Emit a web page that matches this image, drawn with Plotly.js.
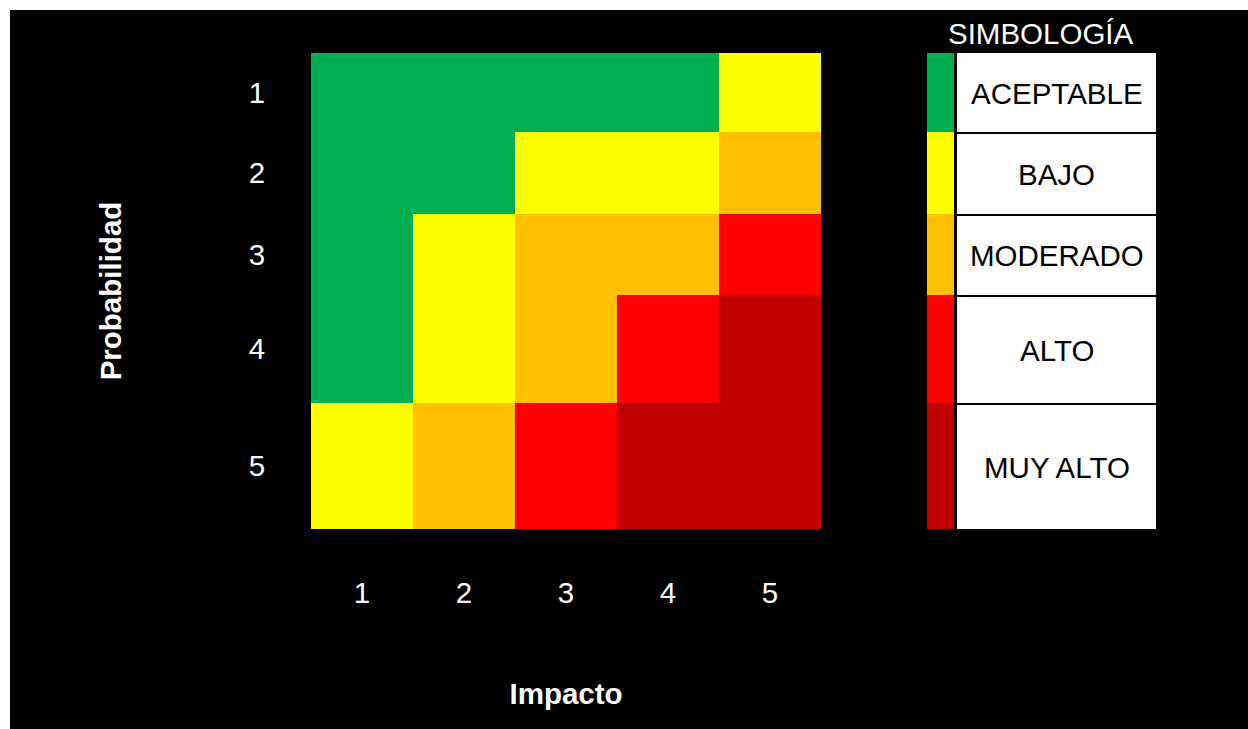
<!DOCTYPE html>
<html>
<head>
<meta charset="utf-8">
<script src="https://cdn.plot.ly/plotly-3.0.1.min.js"></script>
<style>
  html, body { margin: 0; padding: 0; background: #ffffff; }
  #chart { position: absolute; left: 10px; top: 10px; width: 1238px; height: 719px; }
</style>
</head>
<body>
<div id="chart"></div>
<script>
// ---- data ----
const impactLabels = ['1', '2', '3', '4', '5'];          // columns (Impacto)
const probabilityLabels = ['1', '2', '3', '4', '5'];     // rows (Probabilidad)
const levelNames = ['ACEPTABLE', 'BAJO', 'MODERADO', 'ALTO', 'MUY ALTO'];
const levelColors = ['#00B050', '#FFFF00', '#FFC000', '#FF0000', '#C00000'];
// risk level (1..5) per probability row, per impact column
const row1 = [1, 1, 1, 1, 2];
const row2 = [1, 1, 2, 2, 3];
const row3 = [1, 2, 3, 3, 4];
const row4 = [1, 2, 3, 4, 5];
const row5 = [2, 3, 4, 5, 5];
const riskMatrix = [row1, row2, row3, row4, row5];
const legendLevels = [[1], [2], [3], [4], [5]];

// ---- layout config (row boundaries of the matrix, in px-like units) ----
const ROW_EDGES = [0, 79, 161, 242, 350, 476];
const FONT = 'Liberation Sans, Arial, sans-serif';
const FS = 29.5;

const rowCenters = ROW_EDGES.slice(0, -1).map((e, i) => (e + ROW_EDGES[i + 1]) / 2);
const colEdges = [0.5].concat(impactLabels.map((_, i) => i + 1.5));
const colCenters = impactLabels.map((_, i) => i + 1);

const scale = [];
levelColors.forEach((c, i) => { scale.push([i / 5, c]); scale.push([(i + 1) / 5, c]); });

const matrix = {
  type: 'heatmap',
  x: colEdges,
  y: ROW_EDGES,
  z: riskMatrix,
  zmin: 0.5, zmax: 5.5,
  colorscale: scale,
  showscale: false,
  hoverinfo: 'skip',
  xaxis: 'x', yaxis: 'y'
};

const legendStrip = {
  type: 'heatmap',
  x: [0, 1],
  y: ROW_EDGES,
  z: legendLevels,
  zmin: 0.5, zmax: 5.5,
  colorscale: scale,
  showscale: false,
  hoverinfo: 'skip',
  xaxis: 'x2', yaxis: 'y'
};

// plot area spans matrix + legend
const legendBoxX0 = 0.7645, legendBoxX1 = 1.0;
const shapes = levelNames.map((_, i) => ({
  type: 'rect', xref: 'paper', yref: 'y',
  x0: legendBoxX0, x1: legendBoxX1,
  y0: i === 0 ? ROW_EDGES[i] : ROW_EDGES[i] + 2,
  y1: ROW_EDGES[i + 1] + (i === levelNames.length - 1 ? 1 : 0),
  fillcolor: '#ffffff', line: { width: 0 }, layer: 'below'
}));

const annotations = levelNames.map((name, i) => ({
  xref: 'paper', yref: 'y',
  x: (legendBoxX0 + legendBoxX1) / 2, y: rowCenters[i] + 1,
  text: name, showarrow: false,
  font: { family: FONT, size: FS, color: '#000000' },
  xanchor: 'center', yanchor: 'middle'
}));
annotations.push({
  xref: 'paper', yref: 'paper',
  x: 0.864, y: 1.042,
  text: 'SIMBOLOGÍA', showarrow: false,
  font: { family: FONT, size: FS, color: '#ffffff' },
  xanchor: 'center', yanchor: 'middle'
});

const layout = {
  width: 1238, height: 719,
  margin: { l: 301, r: 92, t: 43, b: 200 },
  paper_bgcolor: '#000000',
  plot_bgcolor: '#000000',
  showlegend: false,
  font: { family: FONT, size: FS, color: '#ffffff' },
  xaxis: {
    domain: [0, 0.6036],
    range: [0.5, 5.5],
    tickmode: 'array', tickvals: colCenters, ticktext: impactLabels,
    ticks: 'outside', ticklen: 38, tickcolor: '#000000',
    showgrid: false, zeroline: false, showline: false,
    tickfont: { family: FONT, size: FS, color: '#ffffff' },
    title: { text: '<b>Impacto</b>', standoff: 74, font: { family: FONT, size: FS, color: '#ffffff' } },
    fixedrange: true
  },
  xaxis2: {
    domain: [0.729, 0.761],
    range: [0, 1],
    anchor: 'y',
    showticklabels: false, showgrid: false, zeroline: false, showline: false, ticks: '',
    fixedrange: true
  },
  yaxis: {
    range: [ROW_EDGES[ROW_EDGES.length - 1], 0],
    tickmode: 'array', tickvals: rowCenters, ticktext: probabilityLabels,
    ticks: 'outside', ticklen: 39, tickcolor: '#000000',
    showgrid: false, zeroline: false, showline: false,
    tickfont: { family: FONT, size: FS, color: '#ffffff' },
    title: { text: '<b>Probabilidad</b>', standoff: 118, font: { family: FONT, size: FS, color: '#ffffff' } },
    fixedrange: true
  },
  shapes: shapes,
  annotations: annotations
};

Plotly.newPlot('chart', [matrix, legendStrip], layout, { displayModeBar: false, staticPlot: true });
</script>
</body>
</html>
